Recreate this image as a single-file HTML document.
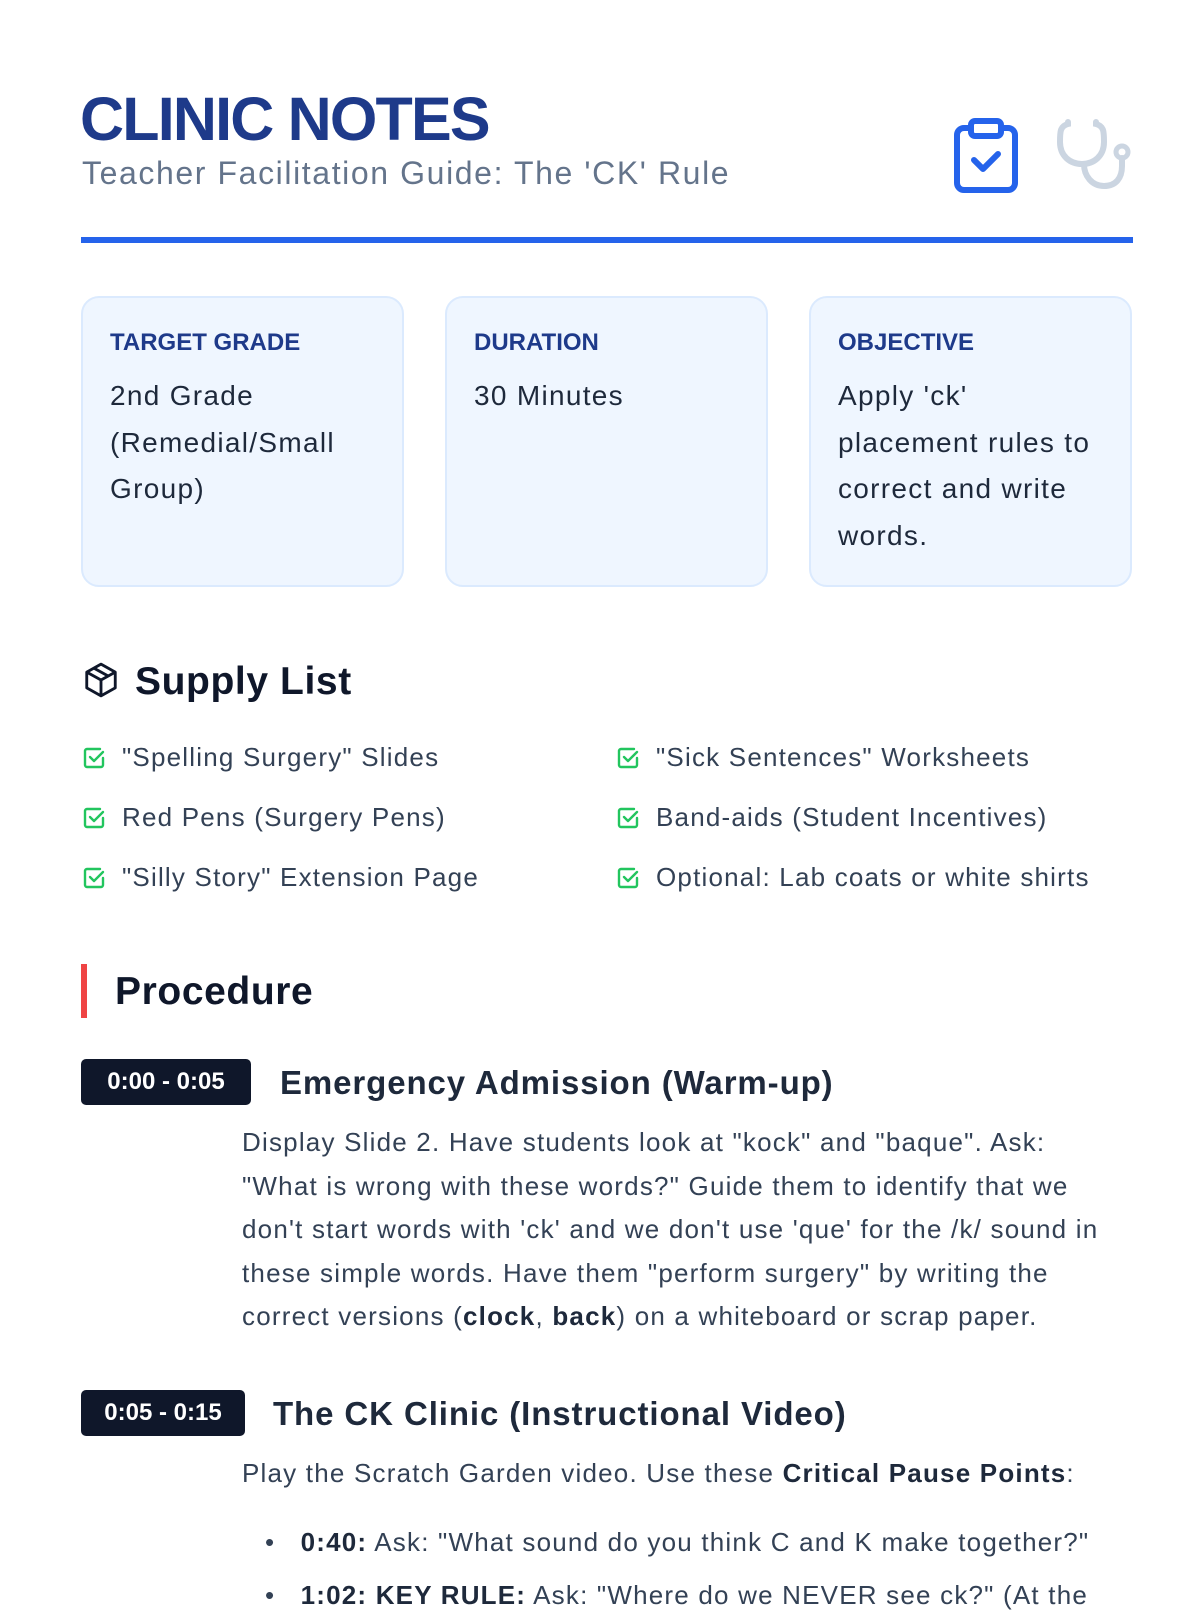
<!DOCTYPE html>
<html><head><meta charset="utf-8"><style>
*{margin:0;padding:0;box-sizing:border-box}
body{width:1200px;height:1600px;background:#fff;font-family:"Liberation Sans",sans-serif;position:relative;overflow:hidden;color:#334155}
.a{position:absolute;white-space:nowrap}
.card{position:absolute;top:296px;width:323px;height:291px;background:#eff6ff;border:2px solid #dbeafe;border-radius:18px}
.lbl{position:absolute;left:27px;top:31px;font-size:24px;font-weight:bold;color:#1e3a8a}
.ctx{position:absolute;left:27px;top:75px;font-size:28px;line-height:46.5px;color:#1e293b;white-space:nowrap;letter-spacing:1.3px}
.item{position:absolute;font-size:26px;color:#334155;white-space:nowrap;letter-spacing:1.2px}
.item svg{position:absolute;left:-40px;top:4px}
.badge{position:absolute;left:81px;background:#0f172a;color:#fff;font-size:24px;font-weight:bold;border-radius:5px;height:46px;line-height:46px;text-align:center}
.st{position:absolute;font-size:33px;font-weight:bold;color:#1e293b;white-space:nowrap;letter-spacing:0.9px}
.p{position:absolute;left:242px;font-size:26px;line-height:43.6px;color:#334155;white-space:nowrap;letter-spacing:1.2px}
.p b{color:#1e293b}
</style></head><body>
<div class="a" style="left:80px;top:84px;font-size:61px;font-weight:900;color:#1e3a8a;letter-spacing:-1.8px">CLINIC NOTES</div>
<div class="a" style="left:82px;top:155px;font-size:32px;color:#64748b;letter-spacing:1.6px">Teacher Facilitation Guide: The 'CK' Rule</div>
<svg class="a" style="left:953px;top:118px" width="66" height="76" viewBox="0 0 66 76"><rect x="4" y="10" width="58" height="62" rx="7" fill="none" stroke="#2563eb" stroke-width="6"/><rect x="18" y="3" width="30" height="15" rx="4" fill="#fff" stroke="#2563eb" stroke-width="6"/><path d="M21 42l9 9 15-15" fill="none" stroke="#2563eb" stroke-width="6" stroke-linecap="round" stroke-linejoin="round"/></svg>
<svg class="a" style="left:1056px;top:118px" width="80" height="75" viewBox="0 0 80 75"><path d="M12 4v2C4 8 4 14 4 24c0 14 10 22 22 22s22-8 22-22c0-10 0-16-8-18V4" fill="none" stroke="#cbd5e1" stroke-width="6" stroke-linecap="round"/><path d="M28 46c0 12 8 22 20 22s18-8 18-20v-8" fill="none" stroke="#cbd5e1" stroke-width="6" stroke-linecap="round"/><circle cx="66" cy="34" r="6" fill="none" stroke="#cbd5e1" stroke-width="5"/></svg>
<div class="a" style="left:81px;top:237px;width:1052px;height:6px;background:#2563eb"></div>

<div class="card" style="left:81px"><div class="lbl">TARGET GRADE</div><div class="ctx">2nd Grade<br>(Remedial/Small<br>Group)</div></div>
<div class="card" style="left:445px"><div class="lbl">DURATION</div><div class="ctx">30 Minutes</div></div>
<div class="card" style="left:809px"><div class="lbl">OBJECTIVE</div><div class="ctx">Apply 'ck'<br>placement rules to<br>correct and write<br>words.</div></div>

<svg class="a" style="left:82px;top:661px" width="38" height="38" viewBox="0 0 24 24"><path d="M12 2l9 5v10l-9 5-9-5V7z M3 7l9 5 9-5 M12 12v10 M7.5 4.5l9 5" fill="none" stroke="#0f172a" stroke-width="1.8" stroke-linejoin="round"/></svg>
<div class="a" style="left:135px;top:660px;font-size:39px;font-weight:bold;color:#0f172a;letter-spacing:0.6px">Supply List</div>

<svg width="0" height="0" style="position:absolute"><defs><g id="ck"><path d="M18 3H5a2 2 0 0 0-2 2v14a2 2 0 0 0 2 2h14a2 2 0 0 0 2-2v-7" fill="none" stroke="#22c55e" stroke-width="2.4" stroke-linecap="round"/><path d="M8 11l4 4 9-9" fill="none" stroke="#22c55e" stroke-width="2.4" stroke-linecap="round" stroke-linejoin="round"/></g></defs></svg>
<div class="item" style="left:122px;top:742px"><svg width="24" height="24" viewBox="0 0 24 24"><use href="#ck"/></svg>"Spelling Surgery" Slides</div>
<div class="item" style="left:122px;top:802px"><svg width="24" height="24" viewBox="0 0 24 24"><use href="#ck"/></svg>Red Pens (Surgery Pens)</div>
<div class="item" style="left:122px;top:862px"><svg width="24" height="24" viewBox="0 0 24 24"><use href="#ck"/></svg>"Silly Story" Extension Page</div>
<div class="item" style="left:656px;top:742px"><svg width="24" height="24" viewBox="0 0 24 24"><use href="#ck"/></svg>"Sick Sentences" Worksheets</div>
<div class="item" style="left:656px;top:802px"><svg width="24" height="24" viewBox="0 0 24 24"><use href="#ck"/></svg>Band-aids (Student Incentives)</div>
<div class="item" style="left:656px;top:862px"><svg width="24" height="24" viewBox="0 0 24 24"><use href="#ck"/></svg>Optional: Lab coats or white shirts</div>

<div class="a" style="left:81px;top:964px;width:6px;height:54px;background:#ef4444"></div>
<div class="a" style="left:115px;top:970px;font-size:39px;font-weight:bold;color:#0f172a;letter-spacing:0.6px">Procedure</div>

<div class="badge" style="top:1059px;width:170px">0:00 - 0:05</div>
<div class="st" style="left:280px;top:1064px">Emergency Admission (Warm-up)</div>
<div class="p" style="top:1121px">Display Slide 2. Have students look at "kock" and "baque". Ask:<br>"What is wrong with these words?" Guide them to identify that we<br>don't start words with 'ck' and we don't use 'que' for the /k/ sound in<br>these simple words. Have them "perform surgery" by writing the<br>correct versions (<b>clock</b>, <b>back</b>) on a whiteboard or scrap paper.</div>

<div class="badge" style="top:1390px;width:164px">0:05 - 0:15</div>
<div class="st" style="left:273px;top:1395px">The CK Clinic (Instructional Video)</div>
<div class="p" style="top:1452px">Play the Scratch Garden video. Use these <b>Critical Pause Points</b>:</div>
<div class="p" style="top:1521px;left:265px">•&nbsp;&nbsp;&nbsp;<b>0:40:</b> Ask: "What sound do you think C and K make together?"</div>
<div class="p" style="top:1574px;left:265px">•&nbsp;&nbsp;&nbsp;<b>1:02: KEY RULE:</b> Ask: "Where do we NEVER see ck?" (At the</div>
</body></html>
